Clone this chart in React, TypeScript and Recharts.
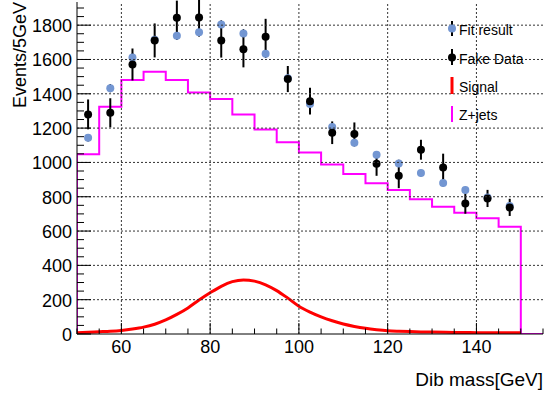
import { ComposedChart, Line, Scatter, ErrorBar, XAxis, YAxis } from "recharts";

const FONT = '"Liberation Sans", Arial, Helvetica, sans-serif';

const W = 544;
const H = 396;
const MARGIN = { top: 2, right: 1, bottom: 0, left: 0 };
const Y_AXIS_W = 77;
const X_AXIS_H = 62;
const PLOT_W = W - MARGIN.left - MARGIN.right - Y_AXIS_W;
const PLOT_H = H - MARGIN.top - MARGIN.bottom - X_AXIS_H;

// Z+jets histogram, 5 GeV bins (low edge of each bin)
const binLow = [50, 55, 60, 65, 70, 75, 80, 85, 90, 95, 100, 105, 110, 115, 120, 125, 130, 135, 140, 145];
const zJets = [1048, 1324, 1480, 1528, 1480, 1408, 1369, 1280, 1192, 1117, 1058, 988, 932, 878, 839, 785, 742, 707, 674, 625];

// points sit in the middle of the bins
const binCenter = [52.5, 57.5, 62.5, 67.5, 72.5, 77.5, 82.5, 87.5, 92.5, 97.5, 102.5, 107.5, 112.5, 117.5, 122.5, 127.5, 132.5, 137.5, 142.5, 147.5];
const fakeData = [1280, 1289, 1571, 1711, 1843, 1845, 1711, 1659, 1732, 1486, 1357, 1173, 1165, 992, 922, 1074, 971, 761, 790, 738];
const fakeErr = [87, 85, 93, 99, 100, 105, 100, 105, 105, 76, 78, 66, 68, 70, 72, 58, 80, 60, 50, 50];
const fitResult = [1144, 1433, 1612, 1715, 1738, 1758, 1804, 1752, 1633, 1490, 1340, 1206, 1115, 1045, 994, 938, 880, 839, 795, 746];
const fitErr = [22, 24, 25, 25, 25, 25, 25, 25, 24, 24, 23, 22, 22, 21, 21, 20, 20, 19, 19, 18];

// signal shape
const signalMass = [50, 52.5, 55, 57.5, 60, 62.5, 65, 67.5, 70, 72.5, 75, 77.5, 80, 82.5, 85, 87.5, 90, 92.5, 95, 97.5, 100, 102.5, 105, 107.5, 110, 112.5, 115, 117.5, 120, 122.5, 125, 127.5, 130, 135, 140, 145, 150];
const signalEvents = [8, 10, 13, 16, 21, 29, 40, 57, 82, 114, 152, 198, 240, 278, 305, 315, 308, 287, 253, 209, 162, 128, 100, 77, 58, 44, 33, 25, 19, 16, 14, 12, 11, 9, 8, 7, 7];

const xMajor = [60, 80, 100, 120, 140];
const xMinor = [50, 55, 60, 65, 70, 75, 80, 85, 90, 95, 100, 105, 110, 115, 120, 125, 130, 135, 140, 145, 150, 155];
const yMajor = [0, 200, 400, 600, 800, 1000, 1200, 1400, 1600, 1800];
const yMinor = [0, 50, 100, 150, 200, 250, 300, 350, 400, 450, 500, 550, 600, 650, 700, 750, 800, 850, 900, 950, 1000, 1050, 1100, 1150, 1200, 1250, 1300, 1350, 1400, 1450, 1500, 1550, 1600, 1650, 1700, 1750, 1800, 1850, 1900];

const zJetsData = [
    { m: 50, v: 0 },
    ...binLow.map((m, i) => ({ m, v: zJets[i] })),
    { m: 150, v: 0 },
    { m: 155, v: 0 },
];
const fakeDataPts = binCenter.map((m, i) => ({ m, v: fakeData[i], err: fakeErr[i] }));
const fitPts = binCenter.map((m, i) => ({ m, v: fitResult[i], err: fitErr[i] }));
const signalData = signalMass.map((m, i) => ({ m, v: signalEvents[i] }));

const GRID = { stroke: "#333", strokeWidth: 1, strokeDasharray: "2 2" };

// bottom axis: inward ticks, labels on majors, dotted grid line up through the plot
const BottomTick = ({ x, y, payload }: any) => {
    const major = xMajor.includes(payload.value);
    return (
        <g>
            {major && <path d={`M${x},${y}V${y - PLOT_H}`} fill="none" {...GRID} />}
            <line x1={x} x2={x} y1={y} y2={y - (major ? 11 : 5.5)} stroke="#000" />
            {major && (
                <text x={x} y={y + 19} textAnchor="middle" fontSize={18} fontFamily={FONT} fill="#000">
                    {payload.value}
                </text>
            )}
        </g>
    );
};

const TopTick = ({ x, y, payload }: any) => {
    const major = xMajor.includes(payload.value);
    return <line x1={x} x2={x} y1={y} y2={y + (major ? 11 : 5.5)} stroke="#000" />;
};

const LeftTick = ({ x, y, payload }: any) => {
    const major = yMajor.includes(payload.value);
    return (
        <g>
            {major && payload.value > 0 && <path d={`M${x},${y}H${x + PLOT_W}`} fill="none" {...GRID} />}
            <line x1={x} x2={x + (major ? 14 : 7)} y1={y} y2={y} stroke="#000" />
            {major && (
                <text x={x - 5} y={y + 7} textAnchor="end" fontSize={18} fontFamily={FONT} fill="#000">
                    {payload.value}
                </text>
            )}
        </g>
    );
};

const RightTick = ({ x, y, payload }: any) => {
    const major = yMajor.includes(payload.value);
    return <line x1={x} x2={x - (major ? 14 : 7)} y1={y} y2={y} stroke="#000" />;
};

const dot = (fill: string) => (p: any) => <circle cx={p.cx} cy={p.cy} r={4} fill={fill} />;

export default function App() {
    return (
        <div style={{ position: "absolute", left: 0, top: 0, width: W, height: H, background: "#fff" }}>
            <ComposedChart width={W} height={H} margin={MARGIN}>
                <XAxis
                    type="number"
                    dataKey="m"
                    domain={[50, 155]}
                    ticks={xMinor}
                    interval={0}
                    height={X_AXIS_H}
                    tickSize={0}
                    tickMargin={0}
                    tickLine={false}
                    tick={<BottomTick />}
                    axisLine={{ stroke: "#000" }}
                    allowDataOverflow
                />
                <XAxis
                    xAxisId="top"
                    orientation="top"
                    type="number"
                    dataKey="m"
                    domain={[50, 155]}
                    ticks={xMinor}
                    interval={0}
                    height={0}
                    tickSize={0}
                    tickMargin={0}
                    tickLine={false}
                    tick={<TopTick />}
                    axisLine={{ stroke: "#000" }}
                    allowDataOverflow
                />
                <YAxis
                    type="number"
                    domain={[0, 1935]}
                    ticks={yMinor}
                    interval={0}
                    width={Y_AXIS_W}
                    tickSize={0}
                    tickMargin={0}
                    tickLine={false}
                    tick={<LeftTick />}
                    axisLine={{ stroke: "#000" }}
                    allowDataOverflow
                />
                <YAxis
                    yAxisId="right"
                    orientation="right"
                    type="number"
                    domain={[0, 1935]}
                    ticks={yMinor}
                    interval={0}
                    width={0}
                    tickSize={0}
                    tickMargin={0}
                    tickLine={false}
                    tick={<RightTick />}
                    axisLine={{ stroke: "#000" }}
                    allowDataOverflow
                />
                <Line
                    data={zJetsData}
                    dataKey="v"
                    type="stepAfter"
                    stroke="#ff00ff"
                    strokeWidth={2}
                    dot={false}
                    isAnimationActive={false}
                />
                <Line
                    data={signalData}
                    dataKey="v"
                    type="monotone"
                    stroke="#ff0000"
                    strokeWidth={3}
                    dot={false}
                    isAnimationActive={false}
                />
                <Scatter data={fitPts} dataKey="v" shape={dot("#7396d2")} isAnimationActive={false}>
                    <ErrorBar dataKey="err" direction="y" width={0} stroke="#000" strokeWidth={1.5} />
                </Scatter>
                <Scatter data={fakeDataPts} dataKey="v" shape={dot("#000")} isAnimationActive={false}>
                    <ErrorBar dataKey="err" direction="y" width={0} stroke="#000" strokeWidth={2} />
                </Scatter>
            </ComposedChart>
            <svg
                width={W}
                height={H}
                style={{ position: "absolute", left: 0, top: 0, pointerEvents: "none" }}
                fontFamily={FONT}
            >
                <text x={26} y={2} transform="rotate(-90 26 2)" textAnchor="end" fontSize={18} fill="#000">
                    Events/5GeV
                </text>
                <text x={543} y={386} textAnchor="end" fontSize={19} fill="#000">
                    Dib mass[GeV]
                </text>

                {/* legend */}
                <line x1={452} x2={452} y1={21} y2={36} stroke="#000" strokeWidth={2} />
                <circle cx={452} cy={28.5} r={4} fill="#7396d2" />
                <text x={459} y={35} fontSize={14} fill="#000">Fit result</text>

                <line x1={452} x2={452} y1={49} y2={65} stroke="#000" strokeWidth={2} />
                <circle cx={452} cy={57.5} r={4} fill="#000" />
                <text x={459} y={63.7} fontSize={14} fill="#000">Fake Data</text>

                <line x1={452} x2={452} y1={77} y2={94} stroke="#ff0000" strokeWidth={3} />
                <text x={459} y={92.3} fontSize={14} fill="#000">Signal</text>

                <line x1={452} x2={452} y1={106} y2={122} stroke="#ff00ff" strokeWidth={2} />
                <text x={459} y={120.3} fontSize={14} fill="#000">Z+jets</text>
            </svg>
        </div>
    );
}
